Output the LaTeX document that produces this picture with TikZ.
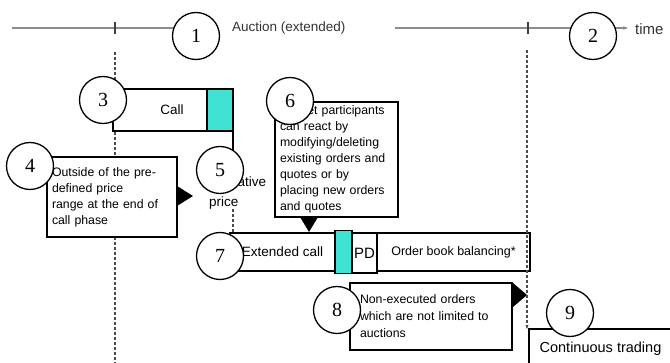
\documentclass[tikz,border=0pt]{standalone}
\usepackage{fontspec}
\setmainfont{Liberation Serif}
\newfontfamily\arialf{Liberation Sans}
\usepackage{xcolor}
\usetikzlibrary{arrows.meta,positioning}
\definecolor{callcyan}{RGB}{64,226,212}

\begin{document}
\begin{tikzpicture}[x=1pt,y=-1pt,
    num/.style={circle,draw,fill=white,line width=1.3pt,minimum size=47pt,inner sep=0pt,font=\fontsize{20}{24}\selectfont},
    box/.style={draw,fill=white,line width=1.2pt,inner sep=0pt,outer sep=0pt,font=\arialf\fontsize{13.5}{16}\selectfont},
    note/.style={box,align=left,anchor=north west,font=\arialf\fontsize{12.3}{16}\selectfont},
    lbl/.style={inner sep=0pt,font=\arialf\fontsize{13.5}{16}\selectfont},
    tl/.style={draw=black!45,line width=1.6pt},
    tk/.style={draw=black!75,line width=1.2pt},
    dsh/.style={dash pattern=on 3pt off 2pt,line width=1.2pt,black!70},
    ptr/.style={fill=black}
]
\useasboundingbox (0,0) rectangle (670,363);

% time line
\coordinate (tl0) at (12,28);
\coordinate (tl1a) at (196,28);
\coordinate (tl1) at (395,28);
\coordinate (tend) at (628,28);
\coordinate (tk1) at (115,28);
\coordinate (tk2) at (528,28);
\draw[tl] (tl0) -- (tl1a);
\draw[tl,-{Stealth[length=5pt]}] (tl1) -- (tend);
\draw[tk] ([yshift=6pt]tk1) -- ([yshift=-6pt]tk1);
\draw[tk] ([yshift=6pt]tk2) -- ([yshift=-6pt]tk2);
\node[lbl,anchor=west,text=black!80] (auc) at (232,28) {Auction (extended)};
\node[lbl,anchor=west,text=black!80,font=\arialf\fontsize{15}{16}\selectfont] (tim) at (635,29) {time};

% start of the auction
\coordinate (d1a) at (115,52);
\coordinate (d1b) at (115,363);
\draw[dsh] (d1a) -- (d1b);

% call phase
\node[box,anchor=north west,minimum width=94pt,minimum height=42pt] (call) at (113,89) {\hspace{24pt}Call};
\node[box,fill=callcyan,minimum width=26pt,minimum height=42pt,right=0pt of call] (cy3) {};
\node[lbl,anchor=west,align=left,font=\arialf\fontsize{13.5}{20}\selectfont] (ind) at (209,193) {Indicative\\price};
\draw[line width=1.2pt] (cy3.south east) -- (cy3.south east |- ind.north);
\draw[dsh] (cy3.east |- ind.south) -- (cy3.east |- 0,233);

% price out of range
\node[note,text width=120pt,inner xsep=5pt,minimum height=80pt] (b4) at (47,157)
  {Outside of the pre-\\defined price\\range at the end of\\call phase};
\fill[ptr] (177,186) -- (193,196) -- (177,206) -- cycle;

% reaction of the market
\node[note,text width=113pt,inner xsep=5pt,minimum height=115pt] (b6) at (275,102)
  {Market participants\\can react by\\modifying/deleting\\existing orders and\\quotes or by\\placing new orders\\and quotes};
\fill[ptr] (300,217) -- (318,217) -- (309,232) -- cycle;

% extended call phase
\node[box,anchor=north west,minimum width=105pt,minimum height=38pt] (ext) at (230,233) {Extended call};
\node[box,fill=callcyan,minimum width=17pt,minimum height=43pt,right=0pt of ext] (cy7) {};
\node[box,anchor=north west,minimum width=25pt,minimum height=40pt,font=\arialf\fontsize{15}{16}\selectfont] (pd) at (cy7.east |- ext.north) {PD};
\node[box,anchor=north west,minimum width=153pt,minimum height=38pt,font=\arialf\fontsize{12.5}{16}\selectfont] (obb) at (pd.north east) {Order book balancing*};

% leftover orders
\node[note,text width=142pt,inner xsep=10pt,minimum height=67pt,font=\arialf\fontsize{12.3}{17}\selectfont] (b8) at (350,283)
  {Non-executed orders\\which are not limited to\\auctions};
\fill[ptr] (513,283) -- (527,295) -- (513,307) -- cycle;

% continuous trading
\node[box,anchor=north west,minimum width=143pt,minimum height=40pt,font=\arialf\fontsize{14.5}{16}\selectfont] (cont) at (529,329) {Continuous trading};
\coordinate (d2a) at (527,50);
\draw[dsh,-{Stealth[length=4pt]}] (d2a) -- (d2a |- cont.north);

% numbers
\node[num] (c1) at (196,36) {1};
\node[num] (c2) at (593,36) {2};
\node[num] (c3) at (103,100) {3};
\node[num] (c4) at (30,166) {4};
\node[num] (c5) at (220,170) {5};
\node[num] (c6) at (290,101) {6};
\node[num] (c7) at (220,256) {7};
\node[num] (c8) at (337,310) {8};
\node[num] (c9) at (570,313) {9};
\end{tikzpicture}
\end{document}
